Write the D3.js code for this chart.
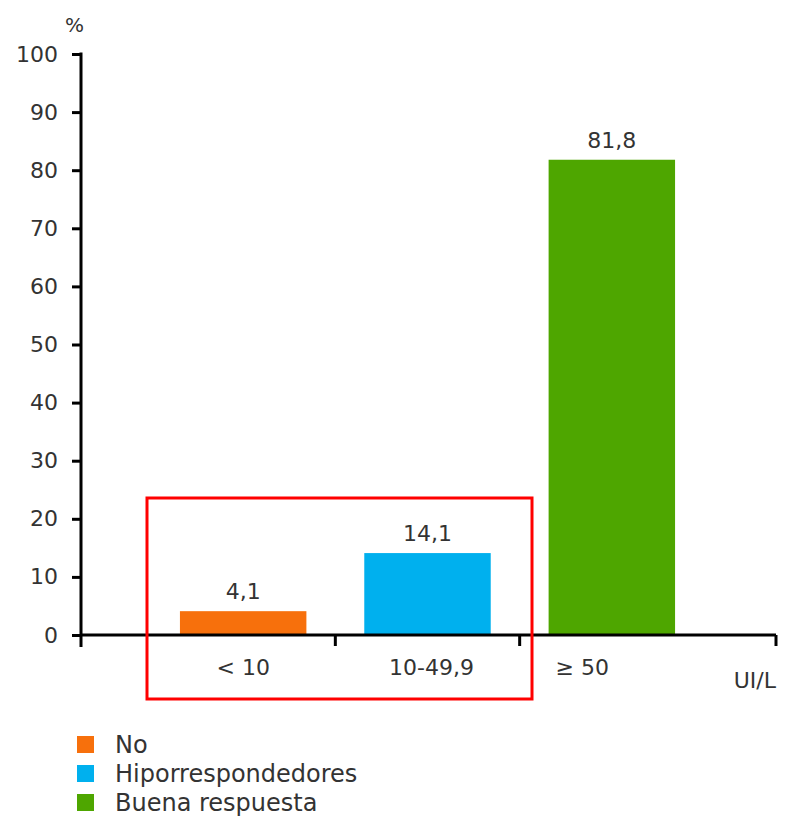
<!DOCTYPE html>
<html><head><meta charset="utf-8">
<script src="https://cdn.jsdelivr.net/npm/d3@7"></script>
<style>
html,body{margin:0;padding:0;background:#fff;}
text{font-family:"DejaVu Sans",Verdana,sans-serif;fill:#333;}
</style></head>
<body>
<svg id="chart" width="787" height="817"></svg>
<script>
const categories = ["< 10", "10-49,9", "≥ 50"];
const values = [4.1, 14.1, 81.8];
const valueLabels = ["4,1", "14,1", "81,8"];
const seriesNames = ["No", "Hiporrespondedores", "Buena respuesta"];
const colors = ["#F7700C", "#00B0EE", "#4EA600"];
const yTicks = [0, 10, 20, 30, 40, 50, 60, 70, 80, 90, 100];
const yLabel = "%";
const xUnit = "UI/L";

const svg = d3.select("#chart");
const axisLeft = 81, axisRight = 776;
const y = d3.scaleLinear().domain([0, 100]).range([635, 54]);
const x = d3.scaleBand().domain(categories).range([151, 704])
  .paddingInner(0.314).paddingOuter(0.157);
const xb = d3.scaleBand().domain(categories).range([151, 704]).padding(0);

// bars
svg.selectAll("rect.bar").data(values).enter().append("rect")
  .attr("class", "bar")
  .attr("x", (d, i) => x(categories[i]))
  .attr("width", x.bandwidth())
  .attr("y", d => y(d))
  .attr("height", d => y(0) - y(d))
  .attr("fill", (d, i) => colors[i]);

// value labels
svg.selectAll("text.val").data(values).enter().append("text")
  .attr("class", "val")
  .attr("x", (d, i) => x(categories[i]) + x.bandwidth() / 2)
  .attr("y", d => y(d) - 12)
  .attr("text-anchor", "middle")
  .style("font-size", "22px")
  .text((d, i) => valueLabels[i]);

// y axis
const yAxis = d3.axisLeft(y).tickValues(yTicks).tickSize(9).tickPadding(14);
const gy = svg.append("g").attr("transform", `translate(${axisLeft},0)`).call(yAxis);
gy.select(".domain").remove();
gy.selectAll(".tick line").attr("stroke", "#000").attr("stroke-width", 3);
gy.selectAll(".tick text").style("font-size", "22px").attr("fill", "#333")
  .style("font-family", "'DejaVu Sans',Verdana,sans-serif");
svg.append("line").attr("x1", axisLeft).attr("x2", axisLeft)
  .attr("y1", y(100) - 1.5).attr("y2", y(0) + 12)
  .attr("stroke", "#000").attr("stroke-width", 3);

// x axis line
svg.append("line").attr("x1", axisLeft).attr("x2", axisRight)
  .attr("y1", y(0)).attr("y2", y(0))
  .attr("stroke", "#000").attr("stroke-width", 3);
// x tick marks at band boundaries
const boundaries = [xb(categories[1]), xb(categories[2]), axisRight];
svg.selectAll("line.xt").data(boundaries).enter().append("line")
  .attr("class", "xt")
  .attr("x1", d => d).attr("x2", d => d)
  .attr("y1", y(0)).attr("y2", y(0) + 11)
  .attr("stroke", "#000").attr("stroke-width", 3);

// category labels
svg.selectAll("text.cat").data(categories).enter().append("text")
  .attr("class", "cat")
  .attr("x", (d, i) => i === categories.length - 1 ? x(d) + 7 : x(d) + x.bandwidth() / 2 + (i === 1 ? 4 : 0))
  .attr("y", y(0) + 40)
  .attr("text-anchor", (d, i) => i === categories.length - 1 ? "start" : "middle")
  .style("font-size", "22px")
  .text(d => d);

// unit & % labels
svg.append("text").attr("x", axisRight).attr("y", 688).attr("text-anchor", "end")
  .style("font-size", "22px").text(xUnit);
svg.append("text").attr("x", 84).attr("y", 32).attr("text-anchor", "end")
  .style("font-size", "20px").text(yLabel);

// red highlight box
svg.append("rect")
  .attr("x", 147).attr("y", 498)
  .attr("width", 532 - 147).attr("height", 699 - 498)
  .attr("fill", "none").attr("stroke", "#FF0000").attr("stroke-width", 3);

// legend
const lg = svg.append("g").attr("transform", "translate(77,736)");
seriesNames.forEach((name, i) => {
  lg.append("rect").attr("x", 0).attr("y", i * 29).attr("width", 17).attr("height", 17)
    .attr("fill", colors[i]);
  lg.append("text").attr("x", 38).attr("y", i * 29 + 17)
    .style("font-size", "24px").text(name);
});
</script>
</body></html>
